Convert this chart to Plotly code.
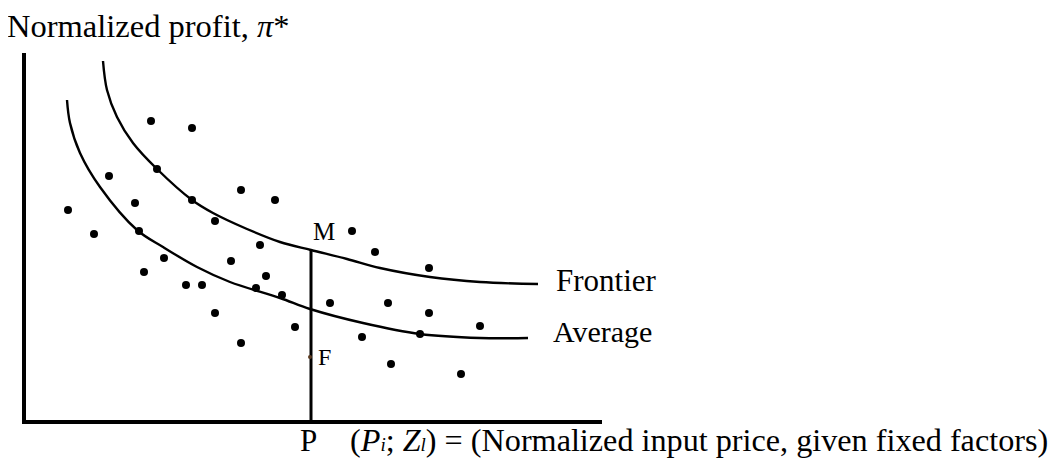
import plotly.graph_objects as go

# Scatter observations (x: normalized input price units, y: normalized profit units)
obs_x = [125, 166, 131, 83, 109, 42, 166, 215, 249, 189, 68, 113, 234, 138, 205, 118,
         240, 160, 176, 230, 256, 189, 269, 215, 326, 349, 403, 304, 362, 403, 454, 336,
         394, 365, 435]
obs_y = [299, 292, 251, 244, 217, 210, 220, 230, 220, 199, 186, 189, 175, 162, 159, 148,
         144, 135, 135, 132, 125, 107, 93, 77, 189, 168, 152, 117, 117, 107, 94, 83,
         86, 56, 46]

# Frontier curve
front_x = [77, 81, 91, 107, 131, 166, 187, 221, 254, 285, 321, 354, 404, 454, 512]
front_y = [359, 330, 303, 277, 251, 220, 207, 191, 178, 170, 161, 152, 143, 138, 136]

# Average curve
avg_x = [41, 44, 54, 74, 111, 137, 171, 204, 254, 284, 337, 394, 454, 502]
avg_y = [320, 297, 267, 233, 190, 173, 153, 138, 122, 111, 97, 86, 82, 82]

# Point P on the price axis, M on the frontier, F observed firm
p_x = 285
m_y = 170
f_y = 63

FONT = "Liberation Serif, Times New Roman, serif"

fig = go.Figure()

fig.add_trace(go.Scatter(x=front_x, y=front_y, mode="lines",
                         line=dict(color="black", width=2.4, shape="spline", smoothing=1.0),
                         hoverinfo="skip", cliponaxis=False))
fig.add_trace(go.Scatter(x=avg_x, y=avg_y, mode="lines",
                         line=dict(color="black", width=2.4, shape="spline", smoothing=1.0),
                         hoverinfo="skip", cliponaxis=False))
fig.add_trace(go.Scatter(x=[p_x, p_x], y=[0, m_y], mode="lines",
                         line=dict(color="black", width=3), hoverinfo="skip"))
fig.add_trace(go.Scatter(x=obs_x, y=obs_y, mode="markers",
                         marker=dict(color="black", size=8), hoverinfo="skip"))
fig.add_trace(go.Scatter(x=[p_x - 1], y=[f_y], mode="markers",
                         marker=dict(color="#5a3a20", size=4), hoverinfo="skip"))

ann = [
    dict(x=p_x, y=m_y + 3, text="M", xanchor="left", yanchor="bottom",
         font=dict(size=25)),
    dict(x=p_x + 5, y=f_y, text="F", xanchor="left", yanchor="middle",
         font=dict(size=24)),
    dict(x=front_x[-1] + 16, y=front_y[-1] + 4, text="Frontier", xanchor="left",
         yanchor="middle", font=dict(size=31)),
    dict(x=avg_x[-1] + 23, y=avg_y[-1] + 7, text="Average", xanchor="left",
         yanchor="middle", font=dict(size=30)),
]
for a in ann:
    a.update(xref="x", yref="y", showarrow=False)
    a["font"].update(family=FONT, color="black")

sub = '<span style="font-size:19px">{}</span>'
x_label = ("(<i>P" + sub.format("i") + "</i>; <i>Z" + sub.format("l")
           + "</i>) = (Normalized input price, given fixed factors)")

ann += [
    dict(xref="x", yref="paper", x=p_x - 3, y=-0.055, text="P", xanchor="center",
         yanchor="middle", showarrow=False, font=dict(family=FONT, size=31, color="black")),
    dict(xref="x", yref="paper", x=p_x + 37, y=-0.055, text=x_label,
         xanchor="left", yanchor="middle", showarrow=False,
         font=dict(family=FONT, size=32.2, color="black")),
    dict(xref="paper", yref="paper", x=-0.036, y=1.0, yshift=27,
         text="Normalized profit, <i>π</i>*", xanchor="left", yanchor="middle",
         showarrow=False, font=dict(family=FONT, size=32.5, color="black")),
]

fig.update_layout(
    width=1056, height=458,
    margin=dict(l=18, r=462, t=45, b=46),
    paper_bgcolor="white", plot_bgcolor="white",
    showlegend=False,
    annotations=ann,
    xaxis=dict(range=[0, 576], showgrid=False, zeroline=False, showticklabels=False,
               ticks="", showline=True, linecolor="black", linewidth=4),
    yaxis=dict(range=[0, 367], showgrid=False, zeroline=False, showticklabels=False,
               ticks="", showline=True, linecolor="black", linewidth=4),
)

fig.write_html("out.html")
